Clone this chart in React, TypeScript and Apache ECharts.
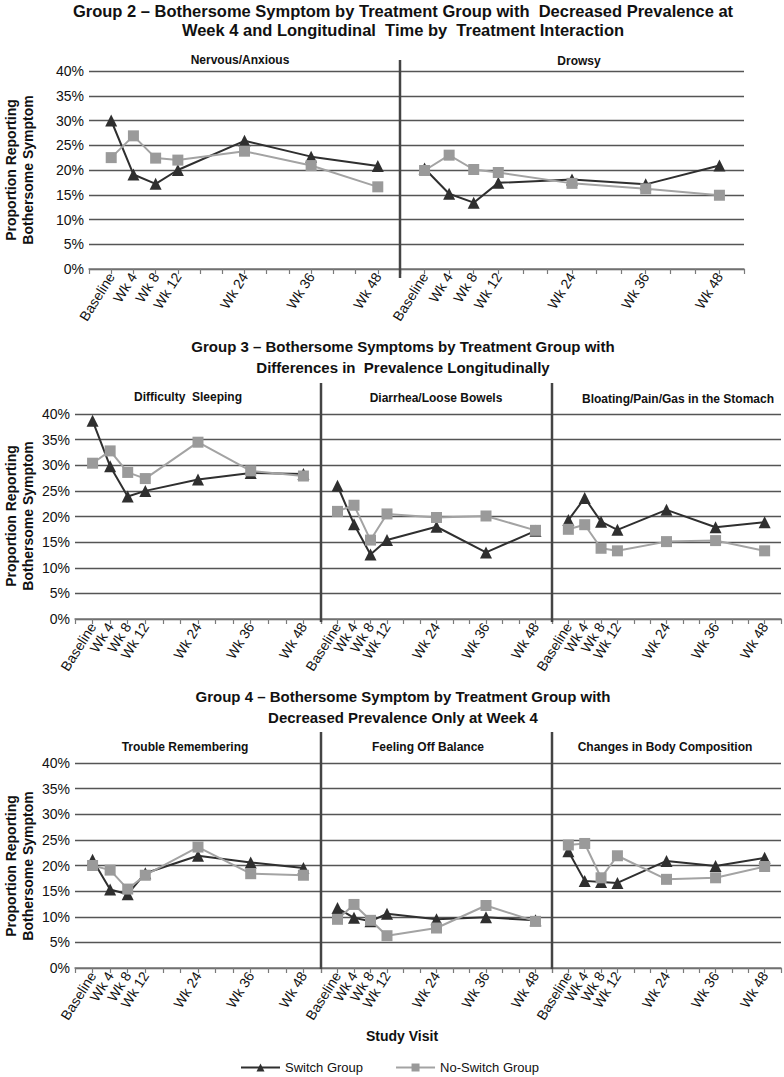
import React, { useEffect, useRef } from "react";
import * as echarts from "echarts";

const weeks = [0, 4, 8, 12, 24, 36, 48];
const visitLabels = ["Baseline", "Wk 4", "Wk 8", "Wk 12", "Wk 24", "Wk 36", "Wk 48"];

const nervousSwitch = [30.0, 19.1, 17.2, 20.0, 25.9, 22.7, 20.8];
const nervousNoSwitch = [22.5, 26.9, 22.4, 22.0, 23.8, 20.9, 16.6];
const drowsySwitch = [20.3, 15.2, 13.4, 17.4, 18.1, 17.1, 20.9];
const drowsyNoSwitch = [19.9, 23.0, 20.1, 19.5, 17.3, 16.2, 14.9];
const sleepSwitch = [38.7, 29.8, 23.9, 25.0, 27.2, 28.5, 28.3];
const sleepNoSwitch = [30.4, 32.8, 28.6, 27.4, 34.5, 28.9, 27.9];
const diarrheaSwitch = [26.0, 18.5, 12.6, 15.4, 18.0, 13.0, 17.2];
const diarrheaNoSwitch = [21.0, 22.2, 15.4, 20.5, 19.8, 20.1, 17.3];
const bloatSwitch = [19.3, 23.6, 19.0, 17.4, 21.3, 17.9, 18.9];
const bloatNoSwitch = [17.5, 18.4, 13.8, 13.3, 15.1, 15.3, 13.3];
const memorySwitch = [21.1, 15.3, 14.4, 18.5, 21.9, 20.6, 19.5];
const memoryNoSwitch = [20.0, 19.1, 15.4, 18.1, 23.6, 18.4, 18.1];
const balanceSwitch = [11.7, 9.8, 9.1, 10.6, 9.5, 9.9, 9.3];
const balanceNoSwitch = [9.5, 12.4, 9.3, 6.3, 7.8, 12.2, 9.1];
const bodySwitch = [22.8, 17.0, 16.8, 16.6, 20.9, 19.9, 21.5];
const bodyNoSwitch = [24.0, 24.3, 17.6, 21.9, 17.3, 17.6, 19.8];

const panelTitles = [
  "Nervous/Anxious",
  "Drowsy",
  "Difficulty  Sleeping",
  "Diarrhea/Loose Bowels",
  "Bloating/Pain/Gas in the Stomach",
  "Trouble Remembering",
  "Feeling Off Balance",
  "Changes in Body Composition",
];
const switchData = [nervousSwitch, drowsySwitch, sleepSwitch, diarrheaSwitch, bloatSwitch, memorySwitch, balanceSwitch, bodySwitch];
const noSwitchData = [nervousNoSwitch, drowsyNoSwitch, sleepNoSwitch, diarrheaNoSwitch, bloatNoSwitch, memoryNoSwitch, balanceNoSwitch, bodyNoSwitch];

const groupTitles = [
  ["Group 2 \u2013 Bothersome Symptom by Treatment Group with  Decreased Prevalence at", "Week 4 and Longitudinal  Time by  Treatment Interaction"],
  ["Group 3 \u2013 Bothersome Symptoms by Treatment Group with", "Differences in  Prevalence Longitudinally"],
  ["Group 4 \u2013 Bothersome Symptom by Treatment Group with", "Decreased Prevalence Only at Week 4"],
];

// layout (pixels)
const grids = [
  { left: 89, top: 71, width: 311, height: 198, first: true, tx: 240, ty: 60 },
  { left: 400, top: 71, width: 344, height: 198, first: false, tx: 579, ty: 61 },
  { left: 75, top: 414, width: 246, height: 205, first: true, tx: 188, ty: 397 },
  { left: 321, top: 414, width: 231, height: 205, first: false, tx: 436, ty: 398 },
  { left: 552, top: 414, width: 229, height: 205, first: false, tx: 678, ty: 399 },
  { left: 75, top: 763, width: 246, height: 205, first: true, tx: 185, ty: 747 },
  { left: 321, top: 763, width: 231, height: 205, first: false, tx: 428, ty: 747 },
  { left: 552, top: 763, width: 229, height: 205, first: false, tx: 665, ty: 747 },
];
const dividers = [
  { x: 400, y1: 60, y2: 278 },
  { x: 321, y1: 383, y2: 622 },
  { x: 552, y1: 383, y2: 622 },
  { x: 321, y1: 732, y2: 969 },
  { x: 552, y1: 732, y2: 969 },
];
const groupTitleY = [[11, 30], [346, 367], [696, 717]];
const yNameY = [170, 516, 866];

const FONT = "'Liberation Sans', Arial, sans-serif";
const DARK = "#2f2f2f";
const GRAY = "#9a9a9a";

export default function App() {
  const ref = useRef<HTMLDivElement>(null);
  useEffect(() => {
    if (!ref.current) return;
    const chart = echarts.init(ref.current, undefined, { renderer: "svg" });

    const xAxis = grids.map((g, i) => ({
      type: "value",
      gridIndex: i,
      min: -4,
      max: 52,
      interval: 4,
      axisLine: { show: true, lineStyle: { color: "#7a7a7a", width: 1.5 } },
      axisTick: { show: true, length: 5, lineStyle: { color: "#7a7a7a", width: 1.2 } },
      splitLine: { show: false },
      axisLabel: {
        rotate: 58,
        margin: 5,
        fontSize: 14,
        fontFamily: FONT,
        color: "#111",
        showMinLabel: true,
        showMaxLabel: true,
        formatter: (v: number) => {
          const k = weeks.indexOf(v);
          return k >= 0 ? visitLabels[k] : "";
        },
      },
    }));

    const yAxis = grids.map((g, i) => ({
      type: "value",
      gridIndex: i,
      min: 0,
      max: 40,
      interval: 5,
      axisLine: { show: false },
      axisTick: { show: false },
      axisLabel: {
        show: g.first,
        fontSize: 14,
        fontFamily: FONT,
        color: "#111",
        margin: 5,
        formatter: "{value}%",
      },
      splitLine: { show: true, lineStyle: { color: "#555555", width: 1.3 } },
    }));

    const series: any[] = [];
    grids.forEach((g, i) => {
      series.push({
        name: "Switch Group",
        type: "line",
        xAxisIndex: i,
        yAxisIndex: i,
        data: weeks.map((w, k) => [w, switchData[i][k]]),
        symbol: "triangle",
        symbolSize: 12,
        itemStyle: { color: DARK },
        lineStyle: { color: DARK, width: 2 },
        z: 3,
      });
      series.push({
        name: "No-Switch Group",
        type: "line",
        xAxisIndex: i,
        yAxisIndex: i,
        data: weeks.map((w, k) => [w, noSwitchData[i][k]]),
        symbol: "rect",
        symbolSize: 11,
        itemStyle: { color: GRAY },
        lineStyle: { color: "#a3a3a3", width: 2 },
        z: 4,
      });
    });

    const graphic: any[] = [];
    dividers.forEach((d) => {
      graphic.push({
        type: "line",
        shape: { x1: d.x, y1: d.y1, x2: d.x, y2: d.y2 },
        style: { stroke: "#444", lineWidth: 2.5 },
        z: 10,
      });
    });
    grids.forEach((g, i) => {
      graphic.push({
        type: "text",
        x: g.tx,
        y: g.ty,
        style: {
          text: panelTitles[i],
          fontSize: 12,
          fontWeight: "bold",
          fontFamily: FONT,
          fill: "#111",
          align: "center",
          verticalAlign: "middle",
        },
      });
    });
    groupTitles.forEach((lines, r) => {
      lines.forEach((t, j) => {
        graphic.push({
          type: "text",
          x: 403,
          y: groupTitleY[r][j],
          style: {
            text: t,
            fontSize: r === 0 ? 16.5 : 15,
            fontWeight: "bold",
            fontFamily: FONT,
            fill: "#111",
            align: "center",
            verticalAlign: "middle",
          },
        });
      });
    });
    yNameY.forEach((yc) => {
      graphic.push({
        type: "text",
        x: 19,
        y: yc,
        rotation: Math.PI / 2,
        style: {
          text: "Proportion Reporting\nBothersome Symptom",
          fontSize: 14,
          fontWeight: "bold",
          fontFamily: FONT,
          fill: "#111",
          align: "center",
          verticalAlign: "middle",
          lineHeight: 17,
        },
      });
    });
    graphic.push({
      type: "text",
      x: 402,
      y: 1036,
      style: {
        text: "Study Visit",
        fontSize: 14,
        fontWeight: "bold",
        fontFamily: FONT,
        fill: "#111",
        align: "center",
        verticalAlign: "middle",
      },
    });

    chart.setOption({
      animation: false,
      backgroundColor: "#ffffff",
      grid: grids.map((g) => ({ left: g.left, top: g.top, width: g.width, height: g.height, containLabel: false })),
      xAxis,
      yAxis,
      series,
      graphic,
      legend: {
        data: ["Switch Group", "No-Switch Group"],
        left: 240,
        top: 1061,
        padding: 0,
        itemWidth: 39,
        itemHeight: 10,
        itemGap: 32,
        textStyle: { fontSize: 13, fontFamily: FONT, color: "#111" },
      },
    });
    return () => chart.dispose();
  }, []);
  return (
    <div
      ref={ref}
      style={{ position: "absolute", left: 0, top: 0, width: 784, height: 1077, background: "#fff" }}
    />
  );
}
